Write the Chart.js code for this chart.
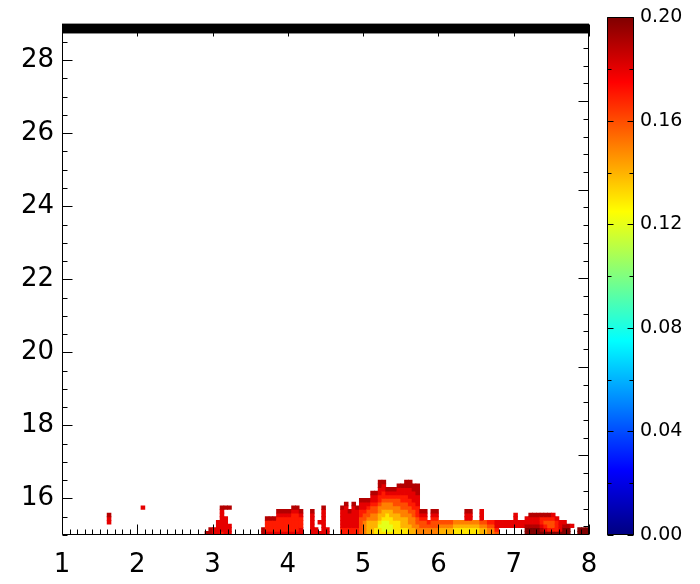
<!DOCTYPE html>
<html>
<head>
<meta charset="utf-8">
<script src="https://cdn.jsdelivr.net/npm/chart.js@4.4.0/dist/chart.umd.min.js"></script>
<style>
  html, body { margin: 0; padding: 0; background: #fff; }
  #wrap { position: relative; width: 700px; height: 584px; }
  #main { position: absolute; left: 0; top: 0; }
  #bar { position: absolute; left: 600px; top: 0; }
</style>
</head>
<body>
<div id="wrap">
  <canvas id="main" width="700" height="584"></canvas>
  <canvas id="bar" width="100" height="584"></canvas>
</div>
<script>
const xRange = [1, 8];
const yRange = [15, 29];
const xLabels = [1, 2, 3, 4, 5, 6, 7, 8];
const yLabels = [16, 18, 20, 22, 24, 26, 28];
const cbRange = [0, 0.2];
const cbLabels = [0, 0.04, 0.08, 0.12, 0.16, 0.20];
const topBand = [28.73, 29];

// right axis has its own (unlabelled) scale
const rightRange = [0.51, 29.38];

const cellW = 0.05, cellH = 0.1;

// level code -> value
const levelValues = { '1': 0.120, '2': 0.130, '3': 0.140, '4': 0.150, '5': 0.160,
                      '6': 0.170, '7': 0.180, '8': 0.190, '9': 0.200 };

// [first column left x, last column left x, levels from y=15 upward ('.' = empty)]
const columns = [
  [1.60, 1.60, '...778'],
  [2.05, 2.05, '.......7'],
  [2.90, 2.90, '8'],
  [2.95, 2.95, '88'],
  [3.00, 3.00, '77'],
  [3.05, 3.05, '7777'],
  [3.10, 3.10, '67777778'],
  [3.15, 3.15, '77777..8'],
  [3.20, 3.20, '777....8'],
  [3.65, 3.65, '88'],
  [3.70, 3.80, '76668'],
  [3.85, 4.00, '7666678'],
  [4.05, 4.10, '76666678'],
  [4.15, 4.15, '7766678'],
  [4.30, 4.30, '7777778'],
  [4.35, 4.35, '77'],
  [4.40, 4.40, '7..7'],
  [4.45, 4.45, '77777778'],
  [4.50, 4.50, '77'],
  [4.70, 4.70, '66777778'],
  [4.75, 4.75, '667777778'],
  [4.80, 4.80, '6677778'],
  [4.85, 4.85, '667777778'],
  [4.90, 4.90, '66777778'],
  [4.95, 4.95, '5555566778'],
  [5.00, 5.00, '4444556778'],
  [5.05, 5.05, '3333455678'],
  [5.10, 5.10, '333344556778'],
  [5.15, 5.15, '223344556778'],
  [5.20, 5.20, '221233445667788'],
  [5.25, 5.25, '211123344566778'],
  [5.30, 5.30, '2111223445678'],
  [5.35, 5.35, '2112233445678'],
  [5.40, 5.40, '2222334455678'],
  [5.45, 5.45, '22223344556778'],
  [5.50, 5.50, '22333445566778'],
  [5.55, 5.55, '223334455667788'],
  [5.60, 5.60, '333444556677788'],
  [5.65, 5.65, '33444556677788'],
  [5.70, 5.70, '44455666777888'],
  [5.75, 5.80, '4455678'],
  [5.85, 5.85, '4456'],
  [5.90, 5.95, '4455678'],
  [6.00, 6.15, '3345'],
  [6.20, 6.30, '2234'],
  [6.35, 6.40, '2234778'],
  [6.45, 6.50, '2234'],
  [6.55, 6.55, '3345777'],
  [6.60, 6.60, '3345'],
  [6.65, 6.70, '4456'],
  [6.75, 6.75, '5677'],
  [6.80, 6.95, '..77'],
  [7.00, 7.00, '..7777'],
  [7.05, 7.10, '..77'],
  [7.15, 7.15, '99877'],
  [7.20, 7.30, '998778'],
  [7.35, 7.35, '987668'],
  [7.40, 7.40, '976568'],
  [7.45, 7.45, '965568'],
  [7.50, 7.50, '965567'],
  [7.55, 7.55, '96667'],
  [7.60, 7.60, '9777'],
  [7.65, 7.65, '9987'],
  [7.70, 7.70, '998'],
  [7.75, 7.75, '..7'],
  [7.85, 7.95, '99']
];

function jet(v) {
  const t = Math.min(1, Math.max(0, (v - cbRange[0]) / (cbRange[1] - cbRange[0])));
  const f = k => Math.round(255 * Math.min(1, Math.max(0, 1.5 - Math.abs(4 * t - k))));
  return `rgb(${f(3)},${f(2)},${f(1)})`;
}

const cells = [];
columns.forEach(([x0, x1, levels]) => {
  const n = Math.round((x1 - x0) / cellW);
  for (let k = 0; k <= n; k++) {
    const xc = Math.round((x0 + k * cellW + cellW / 2) * 1000) / 1000;
    [...levels].forEach((ch, r) => {
      if (ch === '.') return;
      const y0 = Math.round((yRange[0] + r * cellH) * 1000) / 1000;
      cells.push({ x: xc, y: [y0, y0 + cellH], v: levelValues[ch] });
    });
  }
});

Chart.defaults.font.family = '"DejaVu Sans", sans-serif';
Chart.defaults.color = '#000';

const crisp = p => Math.round(p) + 0.5;

function eachTick(scale, from, to, step, major, fn) {
  const n = Math.round((to - from) / step);
  for (let i = 0; i <= n; i++) {
    const v = from + i * step;
    const isMajor = Math.abs(v / major - Math.round(v / major)) < 1e-6;
    fn(crisp(scale.getPixelForValue(v)), isMajor);
  }
}

const frameTicks = {
  id: 'frameTicks',
  afterDatasetsDraw(chart) {
    const { ctx, chartArea: a, scales: { x, y, yR } } = chart;
    ctx.save();
    ctx.fillStyle = '#000';
    const bt = y.getPixelForValue(topBand[1]), bb = y.getPixelForValue(topBand[0]);
    ctx.fillRect(a.left, bt, a.right - a.left, bb - bt);

    ctx.strokeStyle = '#000';
    ctx.lineWidth = 1;
    ctx.beginPath();
    const L = crisp(a.left), R = crisp(a.right) - 1, T = crisp(a.top), B = crisp(a.bottom) - 1;
    ctx.moveTo(L, T); ctx.lineTo(L, B); ctx.lineTo(R, B); ctx.lineTo(R, T); ctx.lineTo(L, T);

    eachTick(x, xRange[0], xRange[1], 0.1, 1, (p, m) => {
      ctx.moveTo(p, B); ctx.lineTo(p, B - (m ? 10 : 5));
      ctx.moveTo(p, T); ctx.lineTo(p, T + (m ? 12 : 6));
    });
    eachTick(y, yRange[0], yRange[1], 0.5, 2, (p, m) => {
      ctx.moveTo(L, p); ctx.lineTo(L + (m ? 10 : 5), p);
    });
    eachTick(yR, 1, 29, 1, 5, (p, m) => {
      ctx.moveTo(R, p); ctx.lineTo(R - (m ? 10 : 5), p);
    });
    ctx.stroke();
    ctx.restore();
  }
};

new Chart(document.getElementById('main'), {
  type: 'bar',
  data: {
    datasets: [{
      data: cells,
      backgroundColor: c => jet(c.raw.v),
      borderWidth: 0,
      inflateAmount: 0.4,
      barPercentage: 1,
      categoryPercentage: 1
    }]
  },
  options: {
    responsive: false,
    animation: false,
    layout: { padding: { top: 8, right: 111, left: 0, bottom: 0 } },
    plugins: { legend: { display: false }, tooltip: { enabled: false } },
    scales: {
      x: {
        type: 'linear', min: xRange[0], max: xRange[1], offset: false,
        afterBuildTicks: s => { s.ticks = xLabels.map(v => ({ value: v })); },
        afterFit: s => { s.height = 49; },
        grid: { display: false, drawTicks: false, offset: false },
        border: { display: false },
        ticks: { font: { size: 26 }, padding: 15, maxRotation: 0 }
      },
      y: {
        type: 'linear', min: yRange[0], max: yRange[1],
        afterBuildTicks: s => { s.ticks = yLabels.map(v => ({ value: v })); },
        afterFit: s => { s.width = 62; },
        grid: { display: false, drawTicks: false },
        border: { display: false },
        ticks: { font: { size: 26 }, padding: 8 }
      },
      yR: {
        type: 'linear', position: 'right', display: false,
        min: rightRange[0], max: rightRange[1]
      }
    }
  },
  plugins: [frameTicks]
});

// colour bar
const cbFrame = {
  id: 'cbFrame',
  afterDatasetsDraw(chart) {
    const { ctx, chartArea: a, scales: { y } } = chart;
    ctx.save();
    ctx.strokeStyle = '#000';
    ctx.lineWidth = 1;
    ctx.beginPath();
    const L = crisp(a.left), R = crisp(a.right) - 1, T = crisp(a.top), B = crisp(a.bottom) - 1;
    ctx.moveTo(L, T); ctx.lineTo(L, B); ctx.lineTo(R, B); ctx.lineTo(R, T); ctx.lineTo(L, T);
    eachTick(y, cbRange[0], cbRange[1], 0.02, 0.04, (p, m) => {
      const len = m ? 6 : 4;
      ctx.moveTo(L, p); ctx.lineTo(L + len, p);
      ctx.moveTo(R, p); ctx.lineTo(R - len, p);
    });
    ctx.stroke();
    ctx.restore();
  }
};

new Chart(document.getElementById('bar'), {
  type: 'bar',
  data: {
    labels: [''],
    datasets: [{
      data: [[cbRange[0], cbRange[1]]],
      backgroundColor: c => {
        const a = c.chart.chartArea;
        if (!a) return '#000';
        const g = c.chart.ctx.createLinearGradient(0, a.bottom, 0, a.top);
        for (let i = 0; i <= 40; i++) {
          g.addColorStop(i / 40, jet(cbRange[0] + (cbRange[1] - cbRange[0]) * i / 40));
        }
        return g;
      },
      borderWidth: 0,
      barPercentage: 1,
      categoryPercentage: 1
    }]
  },
  options: {
    responsive: false,
    animation: false,
    layout: { padding: { top: 8, left: 7, right: 0, bottom: 49 } },
    plugins: { legend: { display: false }, tooltip: { enabled: false } },
    scales: {
      x: { display: false },
      y: {
        position: 'right', min: cbRange[0], max: cbRange[1],
        afterBuildTicks: s => { s.ticks = cbLabels.map(v => ({ value: v })); },
        afterFit: s => { s.width = 66; },
        grid: { display: false, drawTicks: false },
        border: { display: false },
        ticks: { font: { size: 19 }, padding: 6, callback: v => v.toFixed(2) }
      }
    }
  },
  plugins: [cbFrame]
});
</script>
</body>
</html>
